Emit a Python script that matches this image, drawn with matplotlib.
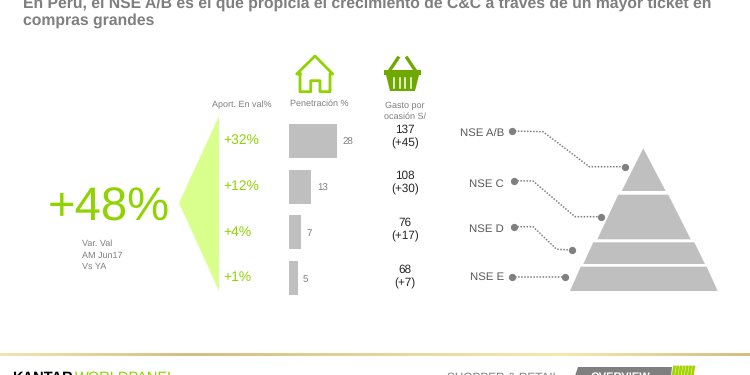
"""
NSE slide: growth, penetration and spend by level.
Background axes works in pixels, the bars get their own axes.
"""
import numpy
import matplotlib
matplotlib.use("Agg")
import matplotlib.pyplot as plt
from matplotlib.colors import LinearSegmentedColormap
from matplotlib.patches import Polygon

plt.rcParams["font.family"] = ["Liberation Sans", "DejaVu Sans"]
plt.rcParams["text.hinting"] = "no_hinting"

GREEN = "#8fd400"
PALE = "#d9ff8c"
GREY = "#bfbfbf"
TEXT = "#7f7f7f"
LABEL = "#595959"
BASKET = "#6fa800"

title_lines = ["En Perú, el NSE A/B es el que propicia el crecimiento de C&C a través de un mayor ticket en",
               "compras grandes"]
total_growth = "+48%"
total_note = ["Var. Val", "AM Jun17", "Vs YA"]
aport = ["+32%", "+12%", "+4%", "+1%"]
penetration = [28, 13, 7, 5]
spend = ["137", "108", "76", "68"]
spend_change = ["(+45)", "(+30)", "(+17)", "(+7)"]
levels = ["NSE A/B", "NSE C", "NSE D", "NSE E"]

aport_y = [140, 186, 232, 277]
spend_y = [130, 176, 223, 270]
pyramid = [
    [(643.3, 148.3), (665.7, 191), (621.7, 191)],
    [(618.3, 194.7), (668.3, 194.7), (690.7, 239.3), (597.3, 239.3)],
    [(593.3, 242.3), (694.3, 242.3), (705, 264), (583.3, 264)],
    [(580.7, 266.7), (706.7, 266.7), (717.7, 291), (570, 291)],
]
leaders = [
    [(511.7, 131), (543, 131.7), (589.3, 166.7), (625, 166.7)],
    [(514.3, 180.7), (533, 181), (575, 216.7), (600.7, 216.7)],
    [(514.3, 226.7), (533, 226.7), (556.7, 249.3), (572.3, 250)],
    [(511.7, 276.7), (565, 276.7)],
]
level_label_y = [134, 184, 229, 277]


def draw_icons(ax):
    house = [(300, 74), (296.7, 74), (315, 56), (332.7, 74), (330, 74), (330, 91.7), (320, 91.7),
             (320, 80.7), (310.7, 80.7), (310.7, 91.7), (300, 91.7), (300, 74)]
    ax.plot(*zip(*house), color=GREEN, lw=2, solid_joinstyle="round")
    # basket
    ax.add_patch(Polygon([(384, 70), (421, 70), (421, 75), (384, 75)], fc=BASKET, ec="none"))
    ax.add_patch(Polygon([(386, 75), (419, 75), (415, 91), (390, 91)], fc=BASKET, ec="none"))
    for slot in [394, 399.5, 405, 410.5]:
        ax.plot([slot, slot], [77.5, 87.5], color="white", lw=1.1)
    ax.plot([390, 398], [70, 58], color=BASKET, lw=2.4)
    ax.plot([415, 407], [70, 58], color=BASKET, lw=2.4)


def draw_footer(fig, ax):
    gold = LinearSegmentedColormap.from_list(
        "gold", ["#f3e4b3", "#d4bf82", "#e6d49c", "#f8e8b0", "#d4bf82"])
    line = fig.add_axes([0, 1 - 356 / 375, 1, 3 / 375])
    line.imshow(numpy.linspace(0, 1, 200)[None, :], aspect="auto", cmap=gold)
    line.axis("off")
    ax.text(12, 371, "KANTAR", color="black", fontsize=10.5, fontweight="bold", va="top")
    ax.text(75, 371, "WORLDPANEL", color=GREEN, fontsize=10.5, va="top")
    ax.text(447, 372, "SHOPPER & RETAIL", color=TEXT, fontsize=8.5, va="top")
    ax.add_patch(Polygon([(578, 367), (672, 367), (671, 376), (575, 376)], fc="#7f7f7f", ec="none"))
    ax.text(591, 372, "OVERVIEW", color="white", fontsize=8, fontweight="bold", va="top")
    for stripe in range(7):
        x = 673 + stripe * 3.2
        ax.plot([x + 1.5, x], [367, 376], color="#a3d400", lw=2)


def main():
    fig = plt.figure(figsize=(7.5, 3.75), dpi=100)
    ax = fig.add_axes([0, 0, 1, 1])
    ax.set_xlim(0, 750)
    ax.set_ylim(375, 0)
    ax.axis("off")

    for line_y, line in zip([4, 21], title_lines):
        ax.text(23, line_y, line, color=TEXT, fontsize=11.35, fontweight="bold", va="center")

    ax.text(109, 208, total_growth, color=GREEN, fontsize=34, ha="center", va="center")
    for note_y, note in zip([244, 256, 267], total_note):
        ax.text(82, note_y, note, color=TEXT, fontsize=6.5, va="center")
    ax.add_patch(Polygon([(179, 203), (219, 116), (219, 291)], fc=PALE, ec="none"))

    ax.text(242, 105, "Aport. En val%", color=TEXT, fontsize=6.5, ha="center", va="center")
    ax.text(319, 104, "Penetración %", color=TEXT, fontsize=6.5, ha="center", va="center")
    ax.text(405, 106, "Gasto por", color=TEXT, fontsize=6.5, ha="center", va="center")
    ax.text(405, 117, "ocasión S/", color=TEXT, fontsize=6.5, ha="center", va="center")
    draw_icons(ax)

    for y, share in zip(aport_y, aport):
        ax.text(223, y, share, color=GREEN, fontsize=10, va="center")
    for y, value, change in zip(spend_y, spend, spend_change):
        ax.text(405, y, value, color="#262626", fontsize=8.5, ha="center", va="center")
        ax.text(405, y + 13, change, color="#262626", fontsize=8.5, ha="center", va="center")

    # bars, 1.71 px per point of penetration
    bars = fig.add_axes([289 / 750, 1 - 301 / 375, 102.6 / 750, 183 / 375])
    bars.patch.set_alpha(0)
    positions = numpy.arange(len(penetration))
    bars.barh(positions, penetration, height=0.745, color=GREY)
    bars.set_xlim(0, 60)
    bars.set_ylim(3.5, -0.5)
    bars.axis("off")
    for pos, value in zip(positions, penetration):
        bars.annotate(str(value), (value, pos), xytext=(4, -1), textcoords="offset points",
                      color=TEXT, fontsize=7, va="center")

    for shape in pyramid:
        ax.add_patch(Polygon(shape, fc=GREY, ec="none"))
    for path, label, label_y in zip(leaders, levels, level_label_y):
        ax.plot(*zip(*path), color="#808080", lw=1.1, ls=(0, (1, 1)))
        ax.plot(*zip(path[0], path[-1]), ls="none", marker="o", ms=4.2, color="#808080")
        ax.text(504, label_y, label, color=LABEL, fontsize=8.2, ha="right", va="center")

    draw_footer(fig, ax)
    fig.savefig("out.png", dpi=100)


if __name__ == "__main__":
    main()
